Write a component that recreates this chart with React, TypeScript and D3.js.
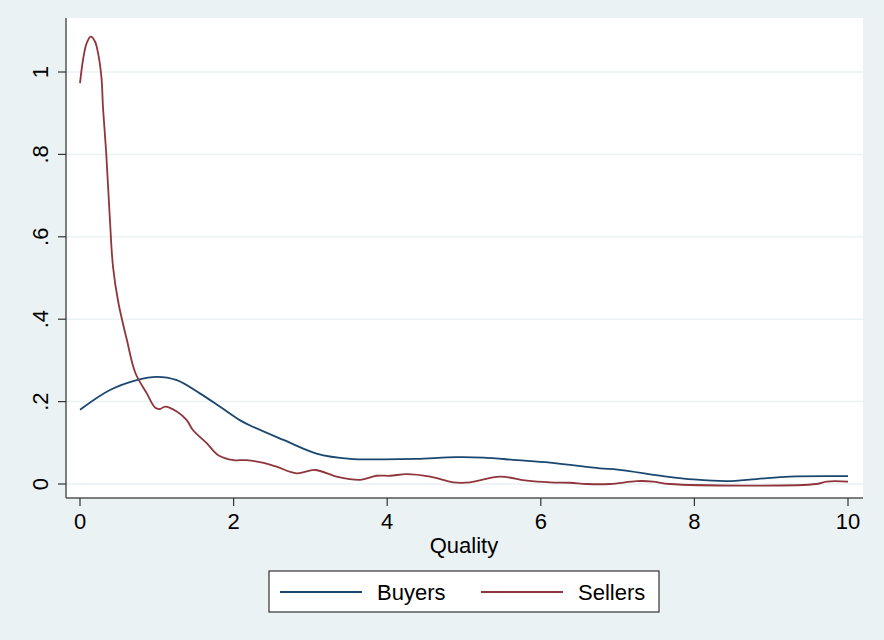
import React from "react";
import * as d3 from "d3";

const buyersX = [0, 0.39, 0.74, 1.0, 1.26, 1.56, 1.82, 2.08, 2.25, 2.65, 3.08, 3.52, 3.95, 4.38, 4.9, 5.25, 5.69, 6.12, 6.77, 7.0, 7.64, 7.99, 8.42, 8.81, 9.24, 10];
const buyersY = [0.18, 0.228, 0.252, 0.26, 0.252, 0.22, 0.188, 0.155, 0.139, 0.107, 0.074, 0.061, 0.06, 0.061, 0.065, 0.064, 0.058, 0.052, 0.038, 0.035, 0.018, 0.011, 0.007, 0.012, 0.018, 0.019];

const sellersX = [0, 0.043, 0.087, 0.139, 0.195, 0.24, 0.28, 0.30, 0.34, 0.39, 0.43, 0.50, 0.61, 0.72, 0.87, 0.98, 1.04, 1.11, 1.26, 1.39, 1.47, 1.65, 1.80, 2.0, 2.17, 2.39, 2.56, 2.82, 3.06, 3.34, 3.65, 3.86, 4.04, 4.25, 4.56, 4.86, 5.08, 5.47, 5.82, 6.12, 6.38, 6.6, 6.9, 7.25, 7.46, 7.68, 9.59, 9.72, 10];
const sellersY = [0.973, 1.034, 1.07, 1.086, 1.074, 1.041, 0.985, 0.912, 0.807, 0.64, 0.527, 0.44, 0.35, 0.27, 0.22, 0.185, 0.182, 0.188, 0.176, 0.155, 0.131, 0.099, 0.07, 0.058, 0.058, 0.051, 0.042, 0.026, 0.034, 0.018, 0.01, 0.02, 0.02, 0.024, 0.018, 0.004, 0.004, 0.018, 0.008, 0.004, 0.003, 0, 0, 0.007, 0.006, 0, 0, 0.006, 0.006];

const xTicks = [0, 2, 4, 6, 8, 10];
const yTicks = [0, 0.2, 0.4, 0.6, 0.8, 1];
const yTickLabels = ["0", ".2", ".4", ".6", ".8", "1"];
const seriesNames = ["Buyers", "Sellers"];
const seriesColors = ["#1a476f", "#90353b"];

export default function App() {
  const W = 884, H = 640;
  const x = d3.scaleLinear().domain([0, 10]).range([80, 848]);
  const y = d3.scaleLinear().domain([0, 1]).range([484, 72]);
  const line = d3.line<[number, number]>().x(d => x(d[0])).y(d => y(d[1])).curve(d3.curveCatmullRom.alpha(0.5));
  const bData: [number, number][] = buyersX.map((v, i) => [v, buyersY[i]]);
  const sData: [number, number][] = sellersX.map((v, i) => [v, sellersY[i]]);
  const font = "'Liberation Sans', Arial, Helvetica, sans-serif";
  const plotL = 66, plotR = 863, plotT = 18, plotB = 498;
  return (
    <svg width={W} height={H} style={{ position: "absolute", left: 0, top: 0 }} fontFamily={font}>
      <rect x={0} y={0} width={W} height={H} fill="#eaf2f3" />
      <rect x={plotL} y={plotT} width={plotR - plotL} height={plotB - plotT} fill="#ffffff" />
      {yTicks.map(t => (
        <line key={"g" + t} x1={plotL} x2={plotR} y1={y(t)} y2={y(t)} stroke="#eaf2f3" strokeWidth={1.5} />
      ))}
      <line x1={plotL} x2={plotL} y1={plotT} y2={plotB} stroke="#555" strokeWidth={1.5} />
      <line x1={plotL} x2={plotR} y1={plotB} y2={plotB} stroke="#555" strokeWidth={1.5} />
      {yTicks.map((t, i) => (
        <g key={"y" + t}>
          <line x1={plotL - 8} x2={plotL} y1={y(t)} y2={y(t)} stroke="#333" strokeWidth={1.2} />
          <text transform={`translate(48,${y(t)}) rotate(-90)`} textAnchor="middle" fontSize={22} fill="#000">{yTickLabels[i]}</text>
        </g>
      ))}
      {xTicks.map(t => (
        <g key={"x" + t}>
          <line x1={x(t)} x2={x(t)} y1={plotB} y2={plotB + 8} stroke="#333" strokeWidth={1.2} />
          <text x={x(t)} y={529} textAnchor="middle" fontSize={22} fill="#000">{t}</text>
        </g>
      ))}
      <text x={464} y={553} textAnchor="middle" fontSize={22} fill="#000">Quality</text>
      <path d={line(bData) || ""} fill="none" stroke={seriesColors[0]} strokeWidth={1.8} />
      <path d={line(sData) || ""} fill="none" stroke={seriesColors[1]} strokeWidth={1.8} />
      <rect x={269} y={571} width={390} height={41} fill="#fff" stroke="#333" strokeWidth={1.2} />
      <line x1={280} x2={362} y1={592} y2={592} stroke={seriesColors[0]} strokeWidth={1.8} />
      <text x={377} y={600} fontSize={22} fill="#000">{seriesNames[0]}</text>
      <line x1={481} x2={563} y1={592} y2={592} stroke={seriesColors[1]} strokeWidth={1.8} />
      <text x={578} y={600} fontSize={22} fill="#000">{seriesNames[1]}</text>
    </svg>
  );
}
